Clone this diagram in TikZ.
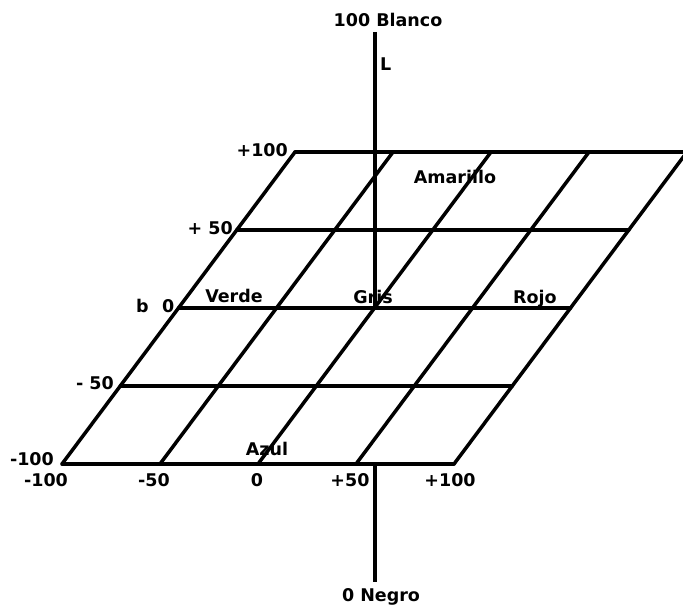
\documentclass[tikz,border=0pt]{standalone}
\usepackage{fontspec}
\setmainfont{DejaVu Sans}
\begin{document}
\begin{tikzpicture}[x=1pt,y=-1pt,
  gridline/.style={line width=3.5pt,line cap=round},
  axisline/.style={line width=3.5pt},
  lab/.style={inner sep=0pt,font=\fontsize{17.5}{18}\selectfont\bfseries}]
\useasboundingbox (0,0) rectangle (683,607);
\clip (0,0) rectangle (683,607);
% grid rows (b = -100 ... +100)
\foreach \i in {0,...,4}{
  \coordinate (r\i l) at ({62+58.25*\i},{464-78*\i});
  \coordinate (r\i r) at ({454+58.25*\i},{464-78*\i});
  \draw[gridline] (r\i l) -- (r\i r);
}
% grid columns (a = -100 ... +100)
\foreach \j in {0,...,4}{
  \coordinate (c\j b) at ({62+98*\j},464);
  \coordinate (c\j t) at ({295+98*\j},152);
  \draw[gridline] (c\j b) -- (c\j t);
}
% L axis
\coordinate (Ltop) at (375,32);
\coordinate (Lmid) at (375,308);
\coordinate (Lunder) at (375,464);
\coordinate (Lbot) at (375,582);
\draw[axisline] (Ltop) -- (Lmid);
\draw[axisline] (Lunder) -- (Lbot);
% axis labels
\node[lab,anchor=base] (blanco) at (388,27) {100 Blanco};
\node[lab,anchor=base west] (L) at (380,71) {L};
\node[lab,anchor=base] (negro) at (381,601) {0 Negro};
% colour names
\node[lab,anchor=base] (verde) at (234,302) {Verde};
\node[lab,anchor=base] (gris) at (373,303) {Gris};
\node[lab,anchor=base] (rojo) at (535,303) {Rojo};
\node[lab,anchor=base] (amarillo) at (455,183) {Amarillo};
\node[lab,anchor=base] (azul) at (267,455) {Azul};
% b scale
\node[lab,anchor=base east] (bp100) at (288,157) {+100};
\node[lab,anchor=base east] (bp50) at (233,234) {+ 50};
\node[lab,anchor=base west] (bname) at (136,312) {b};
\node[lab,anchor=base west] (b0) at (162,312) {0};
\node[lab,anchor=base east] (bm50) at (114,389) {- 50};
\node[lab,anchor=base east] (bm100) at (54,465) {-100};
% a scale
\node[lab,anchor=base] (am100) at (46,486) {-100};
\node[lab,anchor=base] (am50) at (154,486) {-50};
\node[lab,anchor=base] (a0) at (257,486) {0};
\node[lab,anchor=base] (ap50) at (350,486) {+50};
\node[lab,anchor=base] (ap100) at (450,486) {+100};
\end{tikzpicture}
\end{document}
